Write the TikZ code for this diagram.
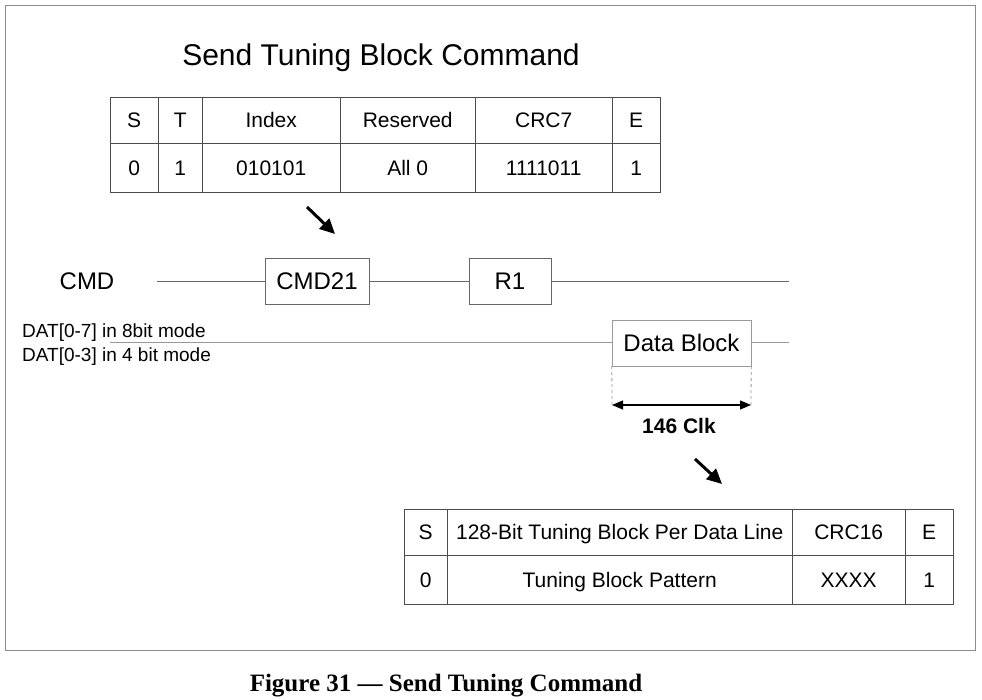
\documentclass[tikz,border=0pt]{standalone}
\usepackage{fontspec}
\setmainfont{Liberation Sans}
\newfontfamily\capfont{Liberation Serif}
\usetikzlibrary{arrows.meta}
\definecolor{tabline}{rgb}{0.3,0.3,0.3}
\definecolor{sigline}{rgb}{0.4,0.4,0.4}
\definecolor{datline}{rgb}{0.6,0.6,0.6}
\definecolor{framegray}{rgb}{0.55,0.55,0.55}
\tikzset{
  cell/.style={draw=tabline, inner sep=0pt, anchor=north west, text height=17pt, text depth=2pt, font=\fontsize{21}{25}\selectfont},
  sigbox/.style={draw=sigline, inner sep=0pt, minimum height=46pt, text height=19pt, text depth=2pt, font=\fontsize{24}{28}\selectfont},
  bigarrow/.style={line width=3pt, -{Triangle[length=15pt,width=14pt]}}
}
\begin{document}
\begin{tikzpicture}[x=1pt,y=-1pt]
    \useasboundingbox (0,0) rectangle (982,700);
    % frame and captions %
    \draw[framegray, line width=0.8pt] (5,5) rectangle (975,650);
    \node[font=\fontsize{30}{34}\selectfont] (title) at (381,58) {Send Tuning Block Command};
    \node[font=\capfont\bfseries\fontsize{25}{29}\selectfont] (caption) at (446,686) {Figure 31 — Send Tuning Command};

    % command token %
    \node[cell, minimum width=48pt, minimum height=46pt] (cs) at (110,97) {S};
    \node[cell, minimum width=44pt, minimum height=46pt] (ct) at (158,97) {T};
    \node[cell, minimum width=138pt, minimum height=46pt] (cidx) at (202,97) {Index};
    \node[cell, minimum width=135pt, minimum height=46pt] (cres) at (340,97) {Reserved};
    \node[cell, minimum width=137pt, minimum height=46pt] (ccrc) at (475,97) {CRC7};
    \node[cell, minimum width=48pt, minimum height=46pt] (ce) at (612,97) {E};
    \node[cell, minimum width=48pt, minimum height=49pt] (vs) at (110,143) {0};
    \node[cell, minimum width=44pt, minimum height=49pt] (vt) at (158,143) {1};
    \node[cell, minimum width=138pt, minimum height=49pt] (vidx) at (202,143) {010101};
    \node[cell, minimum width=135pt, minimum height=49pt] (vres) at (340,143) {All 0};
    \node[cell, minimum width=137pt, minimum height=49pt] (vcrc) at (475,143) {1111011};
    \node[cell, minimum width=48pt, minimum height=49pt] (ve) at (612,143) {1};
    \coordinate (arr1s) at (307,207);
    \coordinate (arr1e) at (335,234);
    \draw[bigarrow] (arr1s) -- (arr1e);

    % CMD line %
    \node[font=\fontsize{24}{28}\selectfont] (cmdlbl) at (87,281) {CMD};
    \coordinate (cmdL) at (157,281);
    \coordinate (cmdR) at (789,281);
    \node[sigbox, minimum width=104pt] (cmd21) at (317,281) {CMD21};
    \node[sigbox, minimum width=82pt] (r1) at (510,281) {R1};
    \draw[sigline, line width=0.8pt] (cmdL) -- (cmd21.west);
    \draw[sigline, line width=0.8pt] (cmd21.east) -- (r1.west);
    \draw[sigline, line width=0.8pt] (r1.east) -- (cmdR);

    % DAT line %
    \node[anchor=west, inner sep=0pt, font=\fontsize{19}{22}\selectfont] (dat8) at (22,333) {DAT[0-7] in 8bit mode};
    \node[anchor=west, inner sep=0pt, font=\fontsize{19}{22}\selectfont] (dat4) at (22,357) {DAT[0-3] in 4 bit mode};
    \coordinate (datL) at (110,343);
    \coordinate (datR) at (789,343);
    \node[sigbox, draw=datline, minimum width=139pt] (dblk) at (681.5,343) {Data Block};
    \draw[datline, line width=1pt] (datL) -- (dblk.west);
    \draw[datline, line width=1pt] (dblk.east) -- (datR);
    \coordinate (dimL) at (612,405);
    \coordinate (dimR) at (751,405);
    \draw[datline, dashed, line width=0.8pt] (dblk.south west) -- (dimL);
    \draw[datline, dashed, line width=0.8pt] (dblk.south east) -- (dimR);
    \draw[line width=1.2pt, {Triangle[length=11pt,width=9pt]}-{Triangle[length=11pt,width=9pt]}] (dimL) -- (dimR);
    \node[font=\bfseries\fontsize{21}{25}\selectfont] (clk) at (679,426) {146 Clk};
    \coordinate (arr2s) at (695,459);
    \coordinate (arr2e) at (722,484);
    \draw[bigarrow] (arr2s) -- (arr2e);

    % data token %
    \node[cell, minimum width=43pt, minimum height=46pt] (ds) at (404,509) {S};
    \node[cell, minimum width=345pt, minimum height=46pt] (dtb) at (447,509) {128-Bit Tuning Block Per Data Line};
    \node[cell, minimum width=113pt, minimum height=46pt] (dcrc) at (792,509) {CRC16};
    \node[cell, minimum width=48pt, minimum height=46pt] (de) at (905,509) {E};
    \node[cell, minimum width=43pt, minimum height=49pt] (ws) at (404,555) {0};
    \node[cell, minimum width=345pt, minimum height=49pt] (wtb) at (447,555) {Tuning Block Pattern};
    \node[cell, minimum width=113pt, minimum height=49pt] (wcrc) at (792,555) {XXXX};
    \node[cell, minimum width=48pt, minimum height=49pt] (we) at (905,555) {1};
\end{tikzpicture}
\end{document}
